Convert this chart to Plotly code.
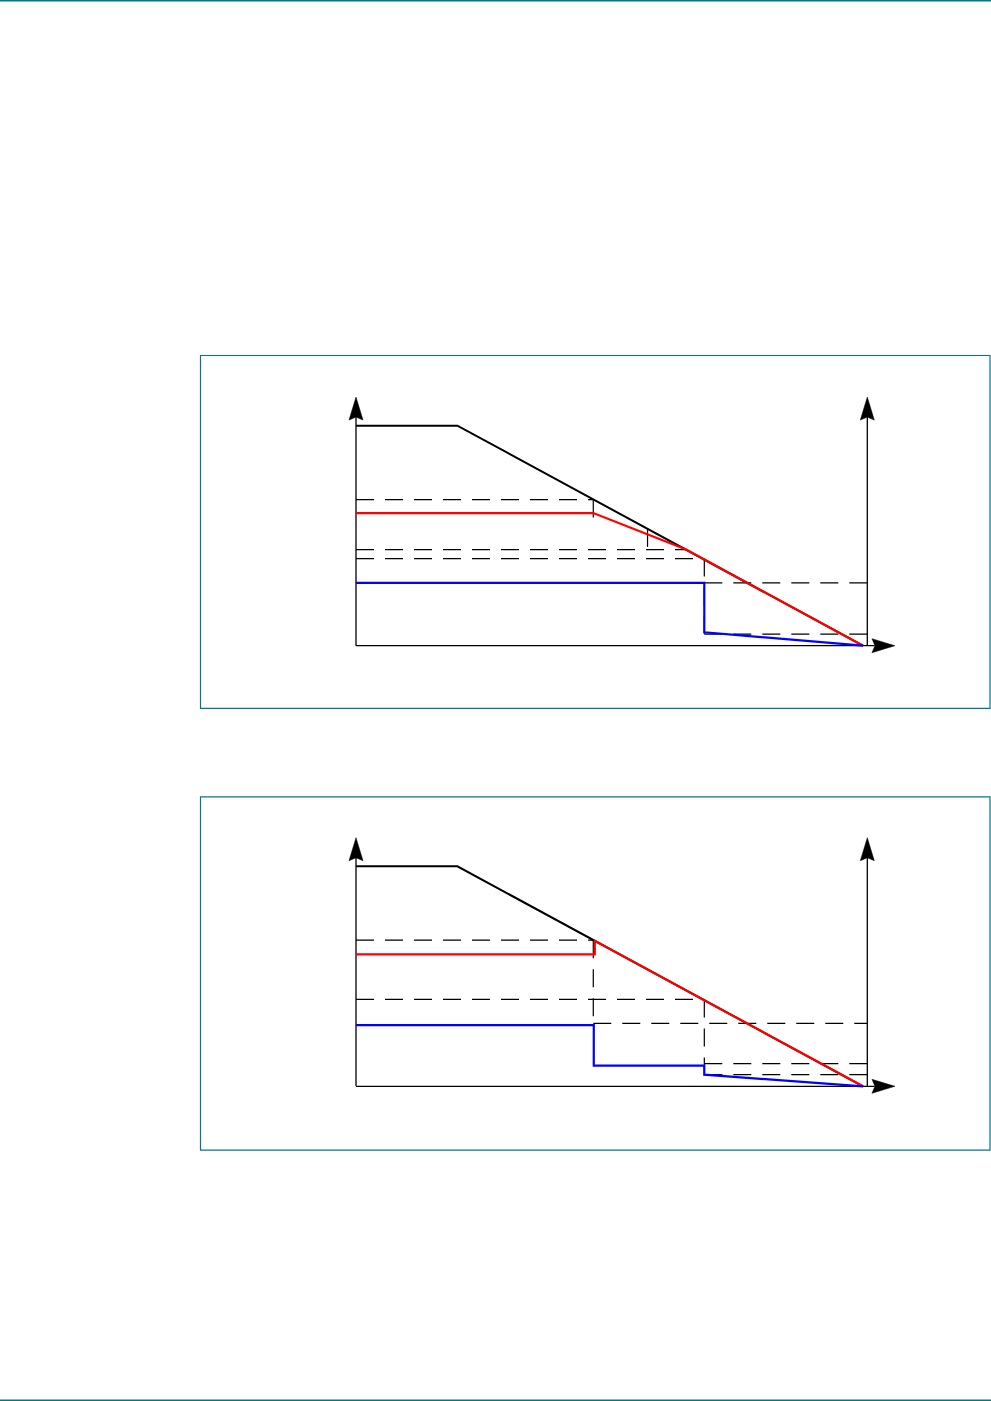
import plotly.graph_objects as go

# ---------------- data (chart units: x 0..100, y 0..100) ----------------
black_x = [0, 20, 100]
black_y = [100, 100, 0]

# chart 1
c1_red_x = [0, 46.8, 65.1, 100]
c1_red_y = [60.3, 60.3, 43.7, 0]
c1_blue_x = [0, 68.7, 68.7, 100]
c1_blue_y = [28.6, 28.6, 6.1, 0]
c1_guide_x0 = [0, 46.8, 57.5, 0, 0, 68.7, 68.7, 68.7]
c1_guide_x1 = [46.8, 46.8, 57.5, 65.1, 68.7, 68.7, 100.85, 100.85]
c1_guide_y0 = [66.4, 66.4, 53.1, 43.7, 39.6, 39.6, 28.6, 5.3]
c1_guide_y1 = [66.4, 56.7, 43.7, 43.7, 39.6, 5.3, 28.6, 5.3]

# chart 2
c2_red_x = [0, 47.1, 47.1, 100]
c2_red_y = [60.0, 60.0, 66.1, 0]
c2_blue_x = [0, 46.9, 46.9, 68.7, 68.7, 100]
c2_blue_y = [27.8, 27.8, 9.4, 9.4, 5.3, 0]
c2_guide_x0 = [0, 46.8, 0, 68.7, 46.8, 68.7, 68.7]
c2_guide_x1 = [46.8, 46.8, 68.7, 68.7, 100.85, 100.85, 100.85]
c2_guide_y0 = [66.4, 66.4, 39.5, 39.5, 28.6, 10.3, 5.3]
c2_guide_y1 = [66.4, 27.8, 39.5, 4.0, 28.6, 10.3, 5.3]

# axes (chart units)
axis_right_x = 100.85
axis_top_y = 113.0
axis_end_x = 106.3

# ---------------- layout constants (pixels) ----------------
W, H = 991, 1401
PX_X0, SX = 356.0, 5.07        # px of x=0, px per x unit
SY = 2.2                       # px per y unit
TEAL = "#00788a"
panels = [
    dict(y0px=645.7, top=340, bottom=720, box=(200.5, 355.5, 990, 708.3),
         red=(c1_red_x, c1_red_y), blue=(c1_blue_x, c1_blue_y),
         guides=(c1_guide_x0, c1_guide_x1, c1_guide_y0, c1_guide_y1)),
    dict(y0px=1086.3, top=780, bottom=1160, box=(200.5, 796.8, 990, 1150.2),
         red=(c2_red_x, c2_red_y), blue=(c2_blue_x, c2_blue_y),
         guides=(c2_guide_x0, c2_guide_x1, c2_guide_y0, c2_guide_y1)),
]
ARROW_LEN, ARROW_HW, ARROW_NOTCH = 23.0, 7.0, 3.0

fig = go.Figure()
layout = dict(width=W, height=H, margin=dict(l=0, r=0, t=0, b=0),
              paper_bgcolor="white", plot_bgcolor="rgba(0,0,0,0)",
              showlegend=False, shapes=[])

def up_arrow(x, tip):
    L, hw, n = ARROW_LEN / SY, ARROW_HW / SX, (ARROW_LEN - ARROW_NOTCH) / SY
    return [x, x - hw, x, x + hw, x], [tip, tip - L, tip - n, tip - L, tip]

def right_arrow(tip, y):
    L, hw, n = ARROW_LEN / SX, ARROW_HW / SY, (ARROW_LEN - ARROW_NOTCH) / SX
    return [tip, tip - L, tip - n, tip - L, tip], [y, y + hw, y, y - hw, y]

for i, p in enumerate(panels):
    sfx = "" if i == 0 else str(i + 1)
    xa, ya = "x" + sfx, "y" + sfx
    # axis mapping
    layout["xaxis" + sfx] = dict(domain=[0, 1], range=[-PX_X0 / SX, (W - PX_X0) / SX],
                                 visible=False, fixedrange=True, anchor=ya)
    layout["yaxis" + sfx] = dict(domain=[1 - p["bottom"] / H, 1 - p["top"] / H],
                                 range=[(p["y0px"] - p["bottom"]) / SY, (p["y0px"] - p["top"]) / SY],
                                 visible=False, fixedrange=True, anchor=xa)
    # dashed guides
    gx0, gx1, gy0, gy1 = p["guides"]
    gx, gy = [], []
    for a, b, c, d in zip(gx0, gx1, gy0, gy1):
        gx += [a, b, None]
        gy += [c, d, None]
    fig.add_trace(go.Scatter(x=gx, y=gy, mode="lines", xaxis=xa, yaxis=ya,
                             line=dict(color="black", width=1.2, dash="18px,11px"),
                             hoverinfo="skip"))
    # axes lines
    fig.add_trace(go.Scatter(x=[0, 0, None, 0, axis_end_x - 4, None, axis_right_x, axis_right_x],
                             y=[axis_top_y - 6, 0, None, 0, 0, None, 0, axis_top_y - 6],
                             mode="lines", xaxis=xa, yaxis=ya,
                             line=dict(color="black", width=1.3), hoverinfo="skip"))
    # arrowheads
    for ax_, ay_ in [up_arrow(0, axis_top_y), up_arrow(axis_right_x, axis_top_y),
                     right_arrow(axis_end_x, 0)]:
        fig.add_trace(go.Scatter(x=ax_, y=ay_, mode="lines", fill="toself",
                                 fillcolor="black", line=dict(color="black", width=0.5),
                                 xaxis=xa, yaxis=ya, hoverinfo="skip"))
    # curves
    fig.add_trace(go.Scatter(x=black_x, y=black_y, mode="lines", xaxis=xa, yaxis=ya,
                             line=dict(color="black", width=2), hoverinfo="skip"))
    fig.add_trace(go.Scatter(x=p["red"][0], y=p["red"][1], mode="lines", xaxis=xa, yaxis=ya,
                             line=dict(color="#ff0000", width=2.2), hoverinfo="skip"))
    fig.add_trace(go.Scatter(x=p["blue"][0], y=p["blue"][1], mode="lines", xaxis=xa, yaxis=ya,
                             line=dict(color="#0000ff", width=2.2), hoverinfo="skip"))
    # frame box
    x0, y0, x1, y1 = p["box"]
    layout["shapes"].append(dict(type="rect", xref="paper", yref="paper",
                                 x0=x0 / W, x1=x1 / W, y0=1 - y1 / H, y1=1 - y0 / H,
                                 line=dict(color=TEAL, width=1.2), fillcolor="rgba(0,0,0,0)"))

# page rules top / bottom
for ypx in (0.8, 1400.2):
    layout["shapes"].append(dict(type="line", xref="paper", yref="paper",
                                 x0=0, x1=1, y0=1 - ypx / H, y1=1 - ypx / H,
                                 line=dict(color=TEAL, width=1.6)))

fig.update_layout(**layout)
fig.write_html("out.html", config={"displayModeBar": False, "staticPlot": True},
               post_script="document.body.style.margin='0';document.body.style.padding='0';")
